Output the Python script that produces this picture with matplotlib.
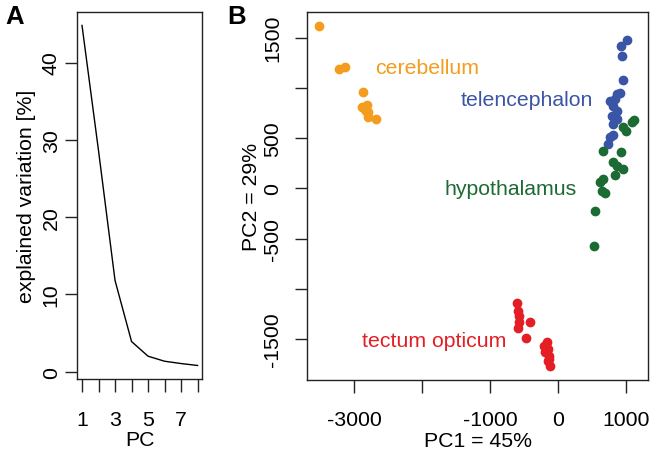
import matplotlib.pyplot as plt

plt.rcParams["font.family"] = ["Liberation Sans", "DejaVu Sans"]
plt.rcParams["font.size"] = 15.3

# ── Panel A: scree plot ──
pc = [1, 2, 3, 4, 5, 6, 7, 8]
expl_var = [44.8, 28.6, 11.8, 3.9, 2.0, 1.35, 1.05, 0.8]

# ── Panel B: PCA scores per region ──
cereb_x = [-3510, -3221, -3128, -2872, -2887, -2813, -2838, -2790, -2860, -2820, -2799, -2681]
cereb_y = [1620, 1188, 1211, 956, 807, 830, 790, 757, 800, 770, 707, 690]

telen_x = [1010, 922, 937, 951, 912, 863, 765, 838, 813, 863, 790, 863, 804, 813, 765, 740]
telen_y = [1480, 1420, 1315, 1079, 947, 937, 872, 889, 823, 773, 723, 690, 640, 531, 508, 441]

hypo_x = [1122, 1084, 960, 1000, 666, 922, 813, 863, 951, 838, 666, 618, 643, 691, 544, 529]
hypo_y = [683, 657, 608, 574, 375, 359, 259, 225, 192, 133, 93, 60, -24, -47, -223, -578]

tect_x = [-607, -593, -569, -569, -412, -584, -471, -206, -166, -143, -191, -128, -143, -118, -160, -130]
tect_y = [-1142, -1219, -1269, -1329, -1335, -1394, -1494, -1568, -1534, -1601, -1634, -1667, -1717, -1773, -1590, -1700]

groups = [
    ("cerebellum", cereb_x, cereb_y, "#F39C1E", (-2691, 1208)),
    ("telencephalon", telen_x, telen_y, "#3B55A6", (-1426, 889)),
    ("hypothalamus", hypo_x, hypo_y, "#1B6B32", (-1676, 3)),
    ("tectum opticum", tect_x, tect_y, "#E31E24", (-2887, -1518)),
]

fig = plt.figure(figsize=(6.53, 4.52), dpi=100)
axA = fig.add_axes([77.3 / 653, 1 - 380 / 452, (202.3 - 77.3) / 653, (380 - 13.3) / 452])
axB = fig.add_axes([306.7 / 653, 1 - 380.7 / 452, (648.3 - 306.7) / 653, (380.7 - 13.3) / 452])

for ax in (axA, axB):
    for s in ax.spines.values():
        s.set_linewidth(1.0)
        s.set_color("#222222")
    ax.tick_params(length=9, width=1.0, color="#222222")

# A
axA.plot(pc, expl_var, color="black", lw=1.0)
axA.set_xlim(0.715, 8.285)
axA.set_ylim(-0.95, 46.5)
axA.set_xticks(pc)
axA.set_xticklabels(["1", "", "3", "", "5", "", "7", ""])
axA.set_yticks([0, 10, 20, 30, 40])
axA.set_yticklabels(["0", "10", "20", "30", "40"], rotation=90, va="center")
axA.tick_params(axis="x", pad=13)
axA.tick_params(axis="y", pad=3)
axA.set_xlabel("PC", labelpad=1)
axA.set_ylabel("explained variation [%]", labelpad=4)

# B
for name, xs, ys, col, (tx, ty) in groups:
    axB.plot(xs, ys, "o", ms=6, color=col, mec=col, lw=0)
    axB.text(tx, ty, name, color=col, ha="left", va="center")
axB.set_xlim(-3696, 1328)
axB.set_ylim(-1906, 1753)
axB.set_xticks([-3000, -2000, -1000, 0, 1000])
axB.set_xticklabels(["-3000", "", "-1000", "0", "1000"])
axB.set_yticks([1500, 1000, 500, 0, -500, -1000, -1500])
axB.set_yticklabels(["1500", "", "500", "0", "-500", "", "-1500"], rotation=90, va="center")
axB.tick_params(axis="x", pad=13)
axB.tick_params(axis="y", pad=8.5)
axB.set_xlabel("PC1 = 45%", labelpad=1)
axB.set_ylabel("PC2 = 29%", labelpad=2)

fig.text(5 / 653, 1 - 5 / 452, "A", fontsize=18.5, weight="bold", va="top", ha="left")
fig.text(227 / 653, 1 - 5 / 452, "B", fontsize=18.5, weight="bold", va="top", ha="left")

fig.savefig("out.png", dpi=100)
